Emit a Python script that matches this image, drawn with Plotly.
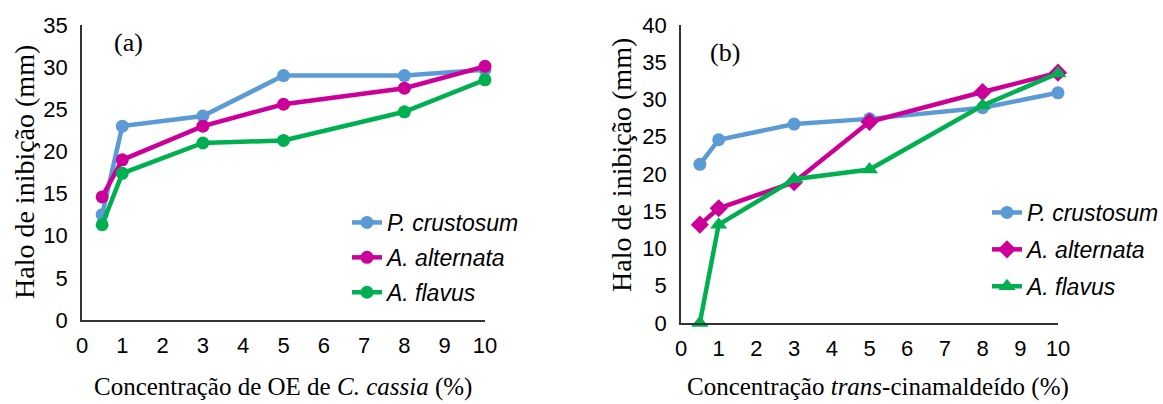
import plotly.graph_objects as go

W, H = 1163, 404

conc = [0.5, 1, 3, 5, 8, 10]

# Panel (a): OE de C. cassia
a_p_crustosum = [12.5, 23.0, 24.2, 29.0, 29.0, 29.7]
a_a_alternata = [14.6, 19.0, 23.0, 25.6, 27.5, 30.1]
a_a_flavus = [11.3, 17.4, 21.0, 21.3, 24.7, 28.5]

# Panel (b): trans-cinamaldeído
b_p_crustosum = [21.3, 24.6, 26.7, 27.4, 28.9, 30.9]
b_a_alternata = [13.2, 15.4, 18.9, 27.0, 31.0, 33.6]
b_a_flavus = [0.0, 13.2, 19.3, 20.6, 29.2, 33.5]

names = ["<i>P. crustosum</i>", "<i>A. alternata</i>", "<i>A. flavus</i>"]
colors = ["#5B9BD5", "#CC0099", "#00B050"]

x_ticks = list(range(0, 11))
a_y_ticks = list(range(0, 36, 5))
b_y_ticks = list(range(0, 41, 5))

fig = go.Figure()

for i, ys in enumerate([a_p_crustosum, a_a_alternata, a_a_flavus]):
    fig.add_trace(go.Scatter(
        x=conc, y=ys, mode="lines+markers", name=names[i],
        line=dict(color=colors[i], width=4.5),
        marker=dict(color=colors[i], size=13, symbol="circle"),
        xaxis="x", yaxis="y", legend="legend", legendgroup="a%d" % i,
        cliponaxis=False,
    ))

b_symbols = ["circle", "diamond", "triangle-up"]
b_sizes = [13, 14, 15]
for i, ys in enumerate([b_p_crustosum, b_a_alternata, b_a_flavus]):
    fig.add_trace(go.Scatter(
        x=conc, y=ys, mode="lines+markers", name=names[i],
        line=dict(color=colors[i], width=4.5),
        marker=dict(color=colors[i], size=b_sizes[i], symbol=b_symbols[i]),
        xaxis="x2", yaxis="y2", legend="legend2", legendgroup="b%d" % i,
        cliponaxis=False,
    ))

tickfont = dict(family="Liberation Sans, Arial, sans-serif", size=22, color="#000")
axis_common = dict(showgrid=False, zeroline=False, showline=True,
                   linecolor="#333333", linewidth=1.5, ticks="",
                   tickfont=tickfont, mirror=False, automargin=False)

legfont = dict(family="Liberation Sans, Arial, sans-serif", size=23, color="#000")

fig.update_layout(
    width=W, height=H,
    margin=dict(l=0, r=0, t=0, b=0, pad=0, autoexpand=False),
    paper_bgcolor="white", plot_bgcolor="white",
    showlegend=True,
    xaxis=dict(domain=[82 / W, 485 / W], range=[0, 10], tickvals=x_ticks,
               anchor="y", ticklabelstandoff=5, **axis_common),
    yaxis=dict(domain=[84 / H, 379 / H], range=[0, 35], tickvals=a_y_ticks,
               anchor="x", ticklabelstandoff=8, **axis_common),
    xaxis2=dict(domain=[681 / W, 1058 / W], range=[0, 10], tickvals=x_ticks,
                anchor="y2", ticklabelstandoff=5, **axis_common),
    yaxis2=dict(domain=[81 / H, 379 / H], range=[0, 40], tickvals=b_y_ticks,
                anchor="x2", ticklabelstandoff=8, **axis_common),
    legend=dict(x=347 / W, y=1 - 201 / H, xanchor="left", yanchor="top",
                bgcolor="rgba(0,0,0,0)", tracegroupgap=2, font=legfont),
    legend2=dict(x=987 / W, y=1 - 191 / H, xanchor="left", yanchor="top",
                 bgcolor="rgba(0,0,0,0)", tracegroupgap=4, font=legfont),
)

serif = "Liberation Serif, Times New Roman, serif"
annotations = [
    dict(text="(a)", x=128 / W, y=1 - 43 / H, font=dict(family=serif, size=26)),
    dict(text="(b)", x=725 / W, y=1 - 52 / H, font=dict(family=serif, size=26)),
    dict(text="Concentração de OE de <i>C. cassia</i> (%)", x=283 / W, y=1 - 387 / H,
         font=dict(family=serif, size=25)),
    dict(text="Concentração <i>trans</i>-cinamaldeído (%)", x=878 / W, y=1 - 387 / H,
         font=dict(family=serif, size=25)),
    dict(text="Halo de inibição (mm)", x=25 / W, y=1 - 172 / H, textangle=-90,
         font=dict(family=serif, size=28)),
    dict(text="Halo de inibição (mm)", x=622 / W, y=1 - 165 / H, textangle=-90,
         font=dict(family=serif, size=28)),
]
for a in annotations:
    a.update(xref="paper", yref="paper", showarrow=False, xanchor="center", yanchor="middle")
    a["font"]["color"] = "#000"
fig.update_layout(annotations=annotations)

fig.write_html("out.html")
